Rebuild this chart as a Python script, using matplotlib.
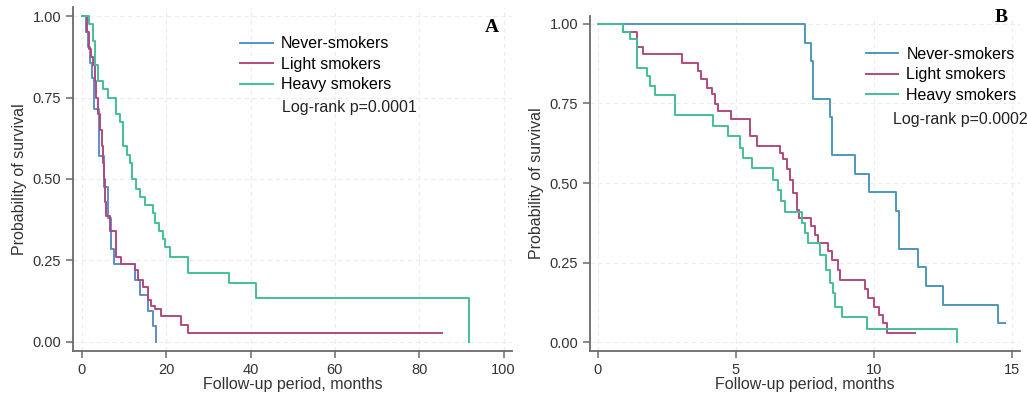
import matplotlib
matplotlib.use("Agg")
import matplotlib.pyplot as plt

plt.rcParams['font.family'] = ['Liberation Sans', 'DejaVu Sans']

labels = ["Never-smokers", "Light smokers", "Heavy smokers"]

# panel A: follow-up (months) / survival
a_never_t = [0, 0.9, 1.5, 2.0, 2.5, 2.9, 4.0, 5.2, 6.2, 7.0, 7.6, 12.7, 13.7, 15.7, 16.9, 17.6]
a_never_s = [1.0, 0.952, 0.905, 0.857, 0.810, 0.714, 0.571, 0.476, 0.381, 0.286, 0.238, 0.190, 0.143, 0.095, 0.048, 0.0]

a_light_t = [0, 1.2, 1.6, 2.1, 2.6, 3.0, 3.4, 3.8, 4.3, 4.8, 5.0, 5.2, 5.4, 5.8, 6.6, 8.2, 9.4,
             12.5, 13.3, 14.5, 15.7, 16.5, 17.3, 18.8, 23.6, 25.1, 85.3]
a_light_s = [1.0, 0.95, 0.90, 0.875, 0.85, 0.80, 0.75, 0.70, 0.65, 0.60, 0.55, 0.50, 0.43, 0.385, 0.34, 0.26, 0.24,
             0.22, 0.19, 0.17, 0.13, 0.11, 0.10, 0.078, 0.052, 0.026, 0.026]

a_heavy_t = [0, 1.7, 2.7, 3.2, 3.9, 5.0, 6.2, 8.2, 9.0, 9.8, 10.6, 11.3, 12.0, 12.9, 13.7, 14.9, 16.9,
             17.3, 18.4, 19.2, 19.6, 20.8, 25.1, 35.0, 41.3, 91.9]
a_heavy_s = [1.0, 0.975, 0.925, 0.85, 0.80, 0.775, 0.75, 0.70, 0.675, 0.60, 0.575, 0.55, 0.50, 0.47, 0.445, 0.42, 0.395,
             0.365, 0.34, 0.315, 0.29, 0.26, 0.21, 0.18, 0.135, 0.0]

# panel B
b_never_t = [0, 7.5, 7.74, 7.8, 8.4, 8.47, 9.3, 9.83, 10.82, 10.9, 11.6, 11.9, 12.51, 14.5, 14.75]
b_never_s = [1.0, 0.941, 0.882, 0.765, 0.706, 0.588, 0.529, 0.471, 0.412, 0.294, 0.235, 0.176, 0.118, 0.059, 0.059]

b_light_t = [0, 0.92, 1.40, 1.64, 3.03, 3.63, 3.75, 3.94, 4.12, 4.24, 4.36, 4.84, 5.51, 5.75, 6.59, 6.72, 6.84,
             6.96, 7.08, 7.2, 7.3, 7.74, 7.86, 7.98, 8.35, 8.47, 8.71, 8.77, 9.67, 9.8, 10.0, 10.2, 10.35, 10.46, 11.49]
b_light_s = [1.0, 0.976, 0.926, 0.905, 0.876, 0.853, 0.826, 0.80, 0.78, 0.747, 0.726, 0.70, 0.648, 0.616, 0.595, 0.574, 0.543,
             0.511, 0.469, 0.416, 0.39, 0.364, 0.338, 0.311, 0.285, 0.259, 0.227, 0.196, 0.167, 0.138, 0.11, 0.085, 0.059, 0.03, 0.03]

b_heavy_t = [0, 0.92, 1.16, 1.40, 1.76, 1.88, 2.06, 2.79, 4.18, 4.72, 5.14, 5.27, 5.57, 6.35, 6.53, 6.65, 6.77,
             7.38, 7.5, 7.62, 8.04, 8.28, 8.4, 8.53, 8.6, 8.83, 9.76, 13.0]
b_heavy_s = [1.0, 0.976, 0.953, 0.863, 0.837, 0.805, 0.776, 0.713, 0.679, 0.648, 0.611, 0.579, 0.546, 0.511, 0.479, 0.443, 0.408,
             0.374, 0.343, 0.311, 0.274, 0.227, 0.185, 0.154, 0.111, 0.078, 0.04, 0.0]

colors_a = ["#5b8fc6", "#b04a80", "#45bf98"]
colors_b = ["#4f97b8", "#b04a80", "#45bf98"]

fig = plt.figure(figsize=(10.27, 3.99), dpi=100)
axA = fig.add_axes([73/1027, 1-351/399, (512-73)/1027, (351-7)/399])
axB = fig.add_axes([590/1027, 1-351/399, (1020-590)/1027, (351-16)/399])


def style(ax, xticks):
    for side in ["top", "right"]:
        ax.spines[side].set_visible(False)
    for side in ["left", "bottom"]:
        ax.spines[side].set_color("#6a6a6a")
        ax.spines[side].set_linewidth(1.3)
    ax.set_xticks(xticks)
    ax.set_yticks([0, 0.25, 0.5, 0.75, 1.0])
    ax.set_yticklabels(["0.00", "0.25", "0.50", "0.75", "1.00"])
    ax.tick_params(direction="out", length=5, width=1.1, color="#6a6a6a",
                   labelsize=10.5, labelcolor="#333333")
    ax.grid(True, color="#ececec", linestyle=(0, (4, 3)), linewidth=0.8)
    ax.set_axisbelow(True)
    ax.set_ylabel("Probability of survival", fontsize=11.5, color="#333333")
    ax.set_xlabel("Follow-up period, months", fontsize=11.5, color="#333333", labelpad=0)


seriesA = [(a_never_t, a_never_s), (a_light_t, a_light_s), (a_heavy_t, a_heavy_s)]
for (t, s), c, lab in zip(seriesA, colors_a, labels):
    axA.step(t, s, where="post", color=c, lw=1.4, label=lab)
axA.set_xlim(-2.1, 102)
axA.set_ylim(-0.028, 1.028)
style(axA, [0, 20, 40, 60, 80, 100])
axA.legend(loc="upper left", bbox_to_anchor=(0.365, 0.934), frameon=False, fontsize=11.5,
           handlelength=2.1, handletextpad=0.5, labelspacing=0.35, borderaxespad=0)
axA.text(0.475, 0.695, "Log-rank p=0.0001", transform=axA.transAxes, fontsize=11.5, color="#222222")
axA.text(0.955, 0.94, "A", transform=axA.transAxes, fontsize=14, fontweight="bold",
         family="Liberation Serif", ha="center", va="center")

seriesB = [(b_never_t, b_never_s), (b_light_t, b_light_s), (b_heavy_t, b_heavy_s)]
for (t, s), c, lab in zip(seriesB, colors_b, labels):
    axB.step(t, s, where="post", color=c, lw=1.4, label=lab)
axB.set_xlim(-0.29, 15.3)
axB.set_ylim(-0.028, 1.025)
style(axB, [0, 5, 10, 15])
axB.legend(loc="upper left", bbox_to_anchor=(0.628, 0.928), frameon=False, fontsize=11.5,
           handlelength=2.0, handletextpad=0.5, labelspacing=0.35, borderaxespad=0)
axB.text(0.705, 0.679, "Log-rank p=0.0002", transform=axB.transAxes, fontsize=11.5, color="#222222")
axB.text(0.955, 0.995, "B", transform=axB.transAxes, fontsize=14, fontweight="bold",
         family="Liberation Serif", ha="center", va="center")

fig.savefig("out.png", dpi=100)
